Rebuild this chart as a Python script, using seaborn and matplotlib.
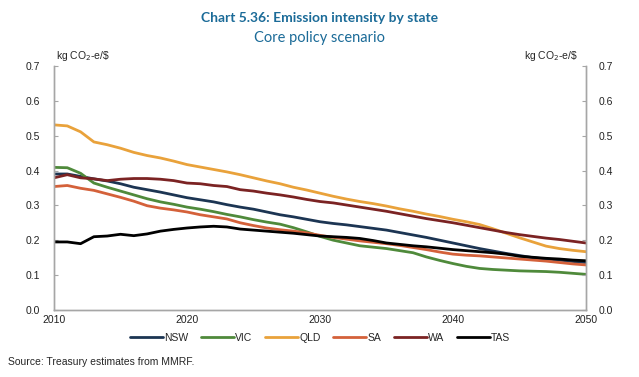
import numpy as np
import pandas as pd
import matplotlib.pyplot as plt
import seaborn as sns

years = list(range(2010, 2051))

nsw = [0.390, 0.390, 0.383, 0.376, 0.370, 0.362, 0.352, 0.345, 0.338, 0.330, 0.322,
       0.316, 0.310, 0.302, 0.295, 0.289, 0.281, 0.273, 0.267, 0.260, 0.253,
       0.248, 0.244, 0.239, 0.234, 0.229, 0.222, 0.215, 0.208, 0.200, 0.192,
       0.184, 0.176, 0.169, 0.162, 0.156, 0.150, 0.146, 0.143, 0.139, 0.136]
vic = [0.409, 0.408, 0.392, 0.364, 0.352, 0.341, 0.330, 0.319, 0.310, 0.303, 0.295,
       0.289, 0.282, 0.274, 0.267, 0.259, 0.252, 0.246, 0.236, 0.224, 0.211,
       0.200, 0.192, 0.184, 0.180, 0.176, 0.170, 0.164, 0.152, 0.142, 0.133,
       0.125, 0.119, 0.116, 0.114, 0.112, 0.111, 0.110, 0.108, 0.105, 0.102]
qld = [0.531, 0.528, 0.511, 0.482, 0.474, 0.464, 0.452, 0.443, 0.436, 0.427, 0.417,
       0.410, 0.403, 0.396, 0.388, 0.379, 0.370, 0.362, 0.352, 0.344, 0.335,
       0.326, 0.318, 0.311, 0.305, 0.298, 0.290, 0.283, 0.275, 0.268, 0.260,
       0.253, 0.245, 0.233, 0.220, 0.207, 0.195, 0.183, 0.176, 0.171, 0.167]
sa = [0.354, 0.357, 0.349, 0.343, 0.333, 0.323, 0.312, 0.299, 0.292, 0.287, 0.281,
      0.273, 0.267, 0.261, 0.250, 0.242, 0.235, 0.230, 0.226, 0.221, 0.214,
      0.208, 0.203, 0.198, 0.194, 0.190, 0.185, 0.179, 0.173, 0.166, 0.160,
      0.157, 0.155, 0.152, 0.149, 0.146, 0.143, 0.140, 0.136, 0.132, 0.129]
wa = [0.379, 0.388, 0.379, 0.376, 0.371, 0.375, 0.377, 0.377, 0.375, 0.371, 0.364,
      0.362, 0.357, 0.354, 0.345, 0.341, 0.335, 0.330, 0.324, 0.317, 0.311,
      0.307, 0.301, 0.295, 0.289, 0.283, 0.276, 0.269, 0.262, 0.256, 0.250,
      0.243, 0.236, 0.229, 0.222, 0.216, 0.211, 0.206, 0.202, 0.197, 0.192]
tas = [0.195, 0.195, 0.190, 0.210, 0.212, 0.217, 0.213, 0.218, 0.226, 0.231, 0.235,
       0.238, 0.240, 0.238, 0.232, 0.229, 0.226, 0.223, 0.220, 0.216, 0.212,
       0.210, 0.208, 0.205, 0.199, 0.192, 0.188, 0.184, 0.181, 0.177, 0.173,
       0.170, 0.167, 0.164, 0.160, 0.154, 0.151, 0.148, 0.146, 0.143, 0.141]

states = ["NSW", "VIC", "QLD", "SA", "WA", "TAS"]
series = [nsw, vic, qld, sa, wa, tas]
colours = ["#1c3553", "#4f8a3b", "#e9a23b", "#d4613a", "#7b2323", "#000000"]

df = pd.DataFrame({
    "Year": years * len(states),
    "State": [s for s in states for _ in years],
    "Value": [v for ser in series for v in ser],
})

sns.set_style("white")
plt.rcParams["font.family"] = ["Liberation Sans", "DejaVu Sans"]

fig = plt.figure(figsize=(6.39, 3.77), dpi=100)
ax = fig.add_axes([0.0845, 0.178, 0.8325, 0.647])

sns.lineplot(data=df, x="Year", y="Value", hue="State", palette=colours,
             linewidth=2.0, ax=ax, legend=True)

ax.set_xlim(2010, 2050)
ax.set_ylim(0, 0.7)
ax.set_xticks([2010, 2020, 2030, 2040, 2050])
yt = np.arange(0, 0.71, 0.1)
ax.set_yticks(yt)
ax.set_yticklabels([f"{t:.1f}" for t in yt])
ax.set_xlabel("")
ax.set_ylabel("")

ax2 = ax.twinx()
ax2.set_ylim(0, 0.7)
ax2.set_yticks(yt)
ax2.set_yticklabels([f"{t:.1f}" for t in yt])

grey = "#a6a6a6"
for a in (ax, ax2):
    a.spines["top"].set_visible(False)
    for side in ("left", "right", "bottom"):
        a.spines[side].set_color(grey)
        a.spines[side].set_linewidth(1.0)
    a.tick_params(direction="in", length=3, color=grey, labelsize=7.5,
                  labelcolor="#222222", pad=4)
ax.tick_params(axis="y", pad=10)
ax2.tick_params(axis="y", pad=9)

unit = r"kg CO$_2$-e/\$"
ax.text(0.003, 1.012, unit, transform=ax.transAxes, fontsize=7.5, ha="left", va="bottom")
ax.text(0.985, 1.012, unit, transform=ax.transAxes, fontsize=7.5, ha="right", va="bottom")

handles, labels = ax.get_legend_handles_labels()
ax.legend(handles, labels, loc="upper center", bbox_to_anchor=(0.5, -0.055),
          ncol=6, frameon=False, fontsize=7.5, handlelength=3.2,
          handletextpad=0.1, columnspacing=1.2)

title_col = "#1b6b98"
fig.text(0.5, 0.953, "Chart 5.36: Emission intensity by state", ha="center",
         va="center", fontsize=10, fontweight="bold", color=title_col,
         family=["Lato", "DejaVu Sans"])
fig.text(0.5, 0.9, "Core policy scenario", ha="center", va="center",
         fontsize=10.5, color=title_col, family=["Lato", "DejaVu Sans"])
fig.text(0.012, 0.04, "Source: Treasury estimates from MMRF.", fontsize=7.5,
         ha="left", va="center")

fig.savefig("out.png", dpi=100)
